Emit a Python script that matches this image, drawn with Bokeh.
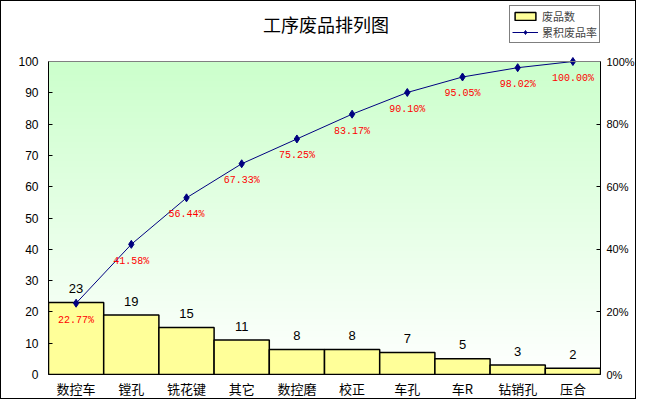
import numpy as np
from bokeh.plotting import figure
from bokeh.models import (LinearAxis, Range1d, Legend, LegendItem, FixedTicker, ColumnDataSource,
                          Label, Span)
from bokeh.embed import file_html
from bokeh.resources import INLINE
from bokeh.core.properties import value

categories = ["数控车", "镗孔", "铣花键", "其它", "数控磨", "校正", "车孔", "车R", "钻销孔", "压合"]
counts = [23, 19, 15, 11, 8, 8, 7, 5, 3, 2]
cum_pct = [22.77, 41.58, 56.44, 67.33, 75.25, 83.17, 90.10, 95.05, 98.02, 100.00]
left_ticks = [0, 10, 20, 30, 40, 50, 60, 70, 80, 90, 100]
right_ticks = [0, 20, 40, 60, 80, 100]

xs = list(range(len(categories)))
src = ColumnDataSource(dict(
    x=xs, counts=counts, cum=cum_pct,
    clab=[str(c) for c in counts],
    plab=["%.2f%%" % v for v in cum_pct],
))

W, H = 636, 399
FL, FR, FB = 47, 602, 373          # frame left/right/bottom in canvas px
PT = 60                            # canvas y of value 100
YTOP = 100.0 * FB / (FB - PT)      # frame extends above the plot area for title/legend

p = figure(width=W, height=H, x_range=Range1d(-0.5, len(categories) - 0.5),
           y_range=Range1d(0, YTOP), output_backend="svg", toolbar_location=None,
           min_border_left=FL, min_border_right=W - FR, min_border_top=0,
           min_border_bottom=H - FB)
p.styles = {"border": "1px solid black"}
p.background_fill_color = "white"
p.border_fill_color = "white"
p.outline_line_color = None
p.xgrid.visible = False
p.ygrid.visible = False

# background gradient of the plot area (decorative)
N = 200
t = np.linspace(0, 1, N)
img = np.zeros((N, 1, 4), dtype=np.uint8)
img[:, 0, 0] = (255 - 51 * t).astype(np.uint8)
img[:, 0, 1] = 255
img[:, 0, 2] = (255 - 51 * t).astype(np.uint8)
img[:, 0, 3] = 255
p.image_rgba(image=[img.view(dtype=np.uint32).reshape(N, 1)], x=-0.5, y=0,
             dw=len(categories), dh=100)
p.add_layout(Span(location=100, dimension="width", line_color="#808080", line_width=1))

bars = p.vbar(x="x", top="counts", width=1.0, source=src, fill_color="#ffff99",
              line_color="black", line_width=1.5)

p.extra_y_ranges = {"pct": Range1d(0, YTOP)}
line = p.line("x", "cum", source=src, y_range_name="pct", line_color="#000080", line_width=1)
pts = p.scatter("x", "cum", source=src, y_range_name="pct", marker="diamond", size=8,
                fill_color="#000080", line_color="#000080")

p.text("x", "counts", text="clab", source=src, text_align="center", text_baseline="middle",
       y_offset=-14, text_font=value("Liberation Sans"), text_font_size="13px", text_color="black")
p.text("x", "cum", text="plab", source=src, y_range_name="pct", text_align="center",
       text_baseline="middle", y_offset=17, text_font=value("Liberation Mono"),
       text_font_size="10px", text_color="red")

# axes
xa = p.xaxis[0]
xa.ticker = FixedTicker(ticks=xs)
xa.major_label_overrides = {i: c for i, c in zip(xs, categories)}
xa.major_tick_in = 0
xa.major_tick_out = 0
xa.minor_tick_line_color = None
xa.axis_line_color = "black"
xa.major_label_text_font = "Noto Sans CJK SC"
xa.major_label_text_font_size = "13px"
xa.major_label_text_color = "black"
xa.major_label_standoff = 4

ya = p.yaxis[0]
ya.ticker = FixedTicker(ticks=left_ticks)
ya.bounds = (0, 100)
ya.major_tick_in = 4
ya.major_tick_out = 0
ya.minor_tick_line_color = None
ya.axis_line_color = "black"
ya.major_label_text_font = "Liberation Sans"
ya.major_label_text_font_size = "12px"
ya.major_label_text_color = "black"
ya.major_label_standoff = 10

ra = LinearAxis(y_range_name="pct", ticker=FixedTicker(ticks=right_ticks), bounds=(0, 100))
ra.major_label_overrides = {v: "%d%%" % v for v in right_ticks}
ra.major_tick_in = 4
ra.major_tick_out = 0
ra.minor_tick_line_color = None
ra.axis_line_color = "black"
ra.major_label_text_font = "Liberation Sans"
ra.major_label_text_font_size = "11px"
ra.major_label_text_color = "black"
ra.major_label_standoff = 6
p.add_layout(ra, "right")

# title
title_x = -0.5 + (326 - FL) / ((FR - FL) / len(categories))
title_y = YTOP * (FB - 22) / FB
p.add_layout(Label(x=title_x, y=title_y, text="工序废品排列图", text_align="center",
                   text_baseline="middle", text_font="Noto Sans CJK SC",
                   text_font_size="18px", text_color="black"))

legend = Legend(items=[LegendItem(label="废品数", renderers=[bars]),
                       LegendItem(label="累积废品率", renderers=[line, pts])],
                location=(FR - FL - 94, FB - 42), orientation="vertical")
legend.border_line_color = "black"
legend.border_line_width = 1.5
legend.background_fill_color = "white"
legend.background_fill_alpha = 1
legend.label_text_font = "Noto Sans CJK SC"
legend.label_text_font_size = "11px"
legend.glyph_width = 26
legend.glyph_height = 10
legend.label_height = 12
legend.spacing = 0
legend.padding = 2
legend.margin = 0
legend.label_standoff = 4
p.add_layout(legend, "center")

open("out.html", "w").write(file_html(p, INLINE))
